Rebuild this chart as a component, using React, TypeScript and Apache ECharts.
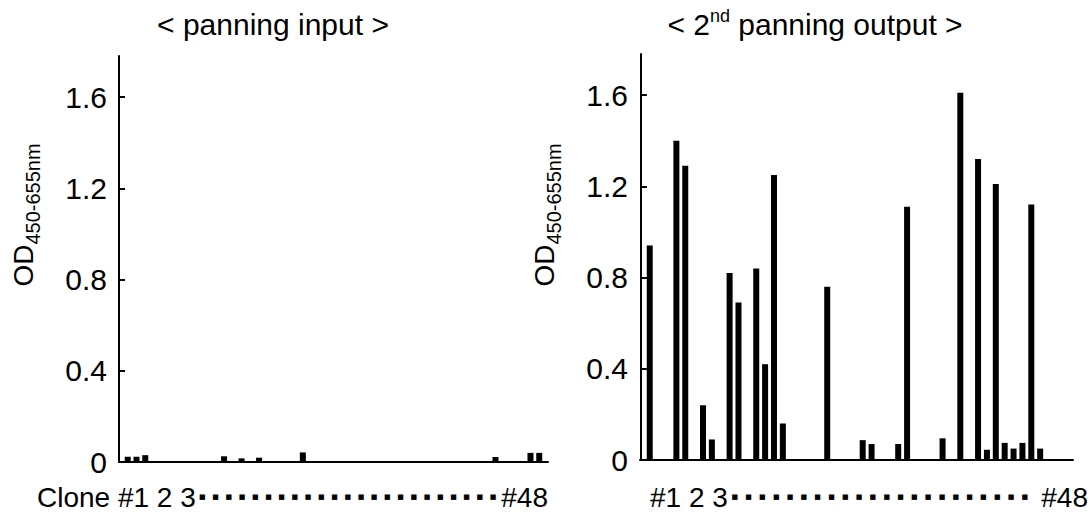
import React, { useEffect, useRef } from 'react';
import * as echarts from 'echarts';

// < panning input >
const inputClones = [1, 2, 3, 12, 14, 16, 21, 43, 47, 48];
const inputOD = [0.023, 0.023, 0.03, 0.025, 0.016, 0.019, 0.042, 0.022, 0.04, 0.04];

// < 2nd panning output >
const outputClones = [1, 4, 5, 7, 8, 10, 11, 13, 14, 15, 16, 21, 25, 26, 29, 30, 34, 36, 38, 39, 40, 41, 42, 43, 44, 45];
const outputOD = [0.94, 1.4, 1.29, 0.24, 0.09, 0.82, 0.69, 0.84, 0.42, 1.25, 0.16, 0.76, 0.087, 0.07, 0.07, 1.11, 0.095, 1.61, 1.32, 0.045, 1.21, 0.075, 0.05, 0.075, 1.12, 0.05];

const yTicks = [0, 0.4, 0.8, 1.2, 1.6];
const FONT = 'Liberation Sans, Arial, sans-serif';

export default function App() {
  const ref = useRef<HTMLDivElement>(null);
  useEffect(() => {
    if (!ref.current) return;
    const chart = echarts.init(ref.current, undefined, { renderer: 'svg' });

    const yAxisBase = (gridIndex: number) => ({
      type: 'value',
      gridIndex,
      min: 0,
      max: 1.78,
      interval: 0.4,
      axisLine: { show: true, lineStyle: { color: '#000', width: 2 } },
      axisTick: { show: true, inside: true, length: 6, lineStyle: { color: '#000', width: 2 }, customValues: yTicks },
      axisLabel: { show: true, fontSize: 30, color: '#000', fontFamily: FONT, margin: 12, customValues: yTicks },
      splitLine: { show: false },
    });
    const xAxisBase = (gridIndex: number, min: number, max: number) => ({
      type: 'value',
      gridIndex,
      min,
      max,
      axisLine: { show: true, onZero: false, lineStyle: { color: '#000', width: 2 } },
      axisTick: { show: false },
      axisLabel: { show: false },
      splitLine: { show: false },
    });

    const dots = (n: number) => '{g|■}'.repeat(n);
    const yTitle = (x: number, y: number) => ({
      type: 'text',
      x,
      y,
      rotation: Math.PI / 2,
      style: {
        text: '{a|OD}{b|450-655nm}',
        align: 'center',
        verticalAlign: 'middle',
        rich: {
          a: { fontSize: 28, fontFamily: FONT, fill: '#000', padding: [0, 0, 6, 0], verticalAlign: 'bottom' },
          b: { fontSize: 20, fontFamily: FONT, fill: '#000', verticalAlign: 'bottom' },
        },
      },
    });

    chart.setOption({
      animation: false,
      backgroundColor: '#fff',
      grid: [
        { left: 119, top: 56, width: 429, height: 406 },
        { left: 640, top: 54, width: 433, height: 406 },
      ],
      xAxis: [xAxisBase(0, 0, 49), xAxisBase(1, -0.1, 48.7)],
      yAxis: [yAxisBase(0), yAxisBase(1)],
      series: [
        {
          type: 'bar',
          xAxisIndex: 0,
          yAxisIndex: 0,
          barWidth: 6,
          itemStyle: { color: '#000' },
          data: inputClones.map((c, i) => [c, inputOD[i]]),
        },
        {
          type: 'bar',
          xAxisIndex: 1,
          yAxisIndex: 1,
          barWidth: 6,
          itemStyle: { color: '#000' },
          data: outputClones.map((c, i) => [c, outputOD[i]]),
        },
      ],
      graphic: [
        {
          type: 'text',
          x: 273,
          y: 24,
          style: { text: '< panning input >', fontSize: 30, fontFamily: FONT, fill: '#000', align: 'center', verticalAlign: 'middle' },
        },
        {
          type: 'text',
          x: 815,
          y: 24,
          style: {
            text: '{n|< 2}{s|nd}{n| panning output >}',
            align: 'center',
            verticalAlign: 'middle',
            rich: {
              n: { fontSize: 30, fontFamily: FONT, fill: '#000', lineHeight: 34 },
              s: { fontSize: 18, fontFamily: FONT, fill: '#000', lineHeight: 34, verticalAlign: 'top' },
            },
          },
        },
        yTitle(26, 215),
        yTitle(547, 215),
        {
          type: 'text',
          x: 37,
          y: 497,
          style: {
            text: 'Clone #1 2 3' + dots(23),
            align: 'left',
            verticalAlign: 'middle',
            rich: {
              g: { fontSize: 7, fontFamily: 'DejaVu Sans', fill: '#000', padding: [0, 3.3, 0, 3.3] },
            },
            fontSize: 28,
            fontFamily: FONT,
            fill: '#000',
          },
        },
        {
          type: 'text',
          x: 548,
          y: 497,
          style: { text: '#48', fontSize: 28, fontFamily: FONT, fill: '#000', align: 'right', verticalAlign: 'middle' },
        },
        {
          type: 'text',
          x: 650,
          y: 497,
          style: {
            text: '#1 2 3' + dots(22),
            align: 'left',
            verticalAlign: 'middle',
            rich: {
              g: { fontSize: 7, fontFamily: 'DejaVu Sans', fill: '#000', padding: [0, 3.6, 0, 3.6] },
            },
            fontSize: 28,
            fontFamily: FONT,
            fill: '#000',
          },
        },
        {
          type: 'text',
          x: 1088,
          y: 497,
          style: { text: '#48', fontSize: 28, fontFamily: FONT, fill: '#000', align: 'right', verticalAlign: 'middle' },
        },
      ],
    });
    return () => chart.dispose();
  }, []);
  return (
    <div
      ref={ref}
      style={{ position: 'absolute', left: 0, top: 0, width: 1092, height: 518, background: '#fff' }}
    />
  );
}
